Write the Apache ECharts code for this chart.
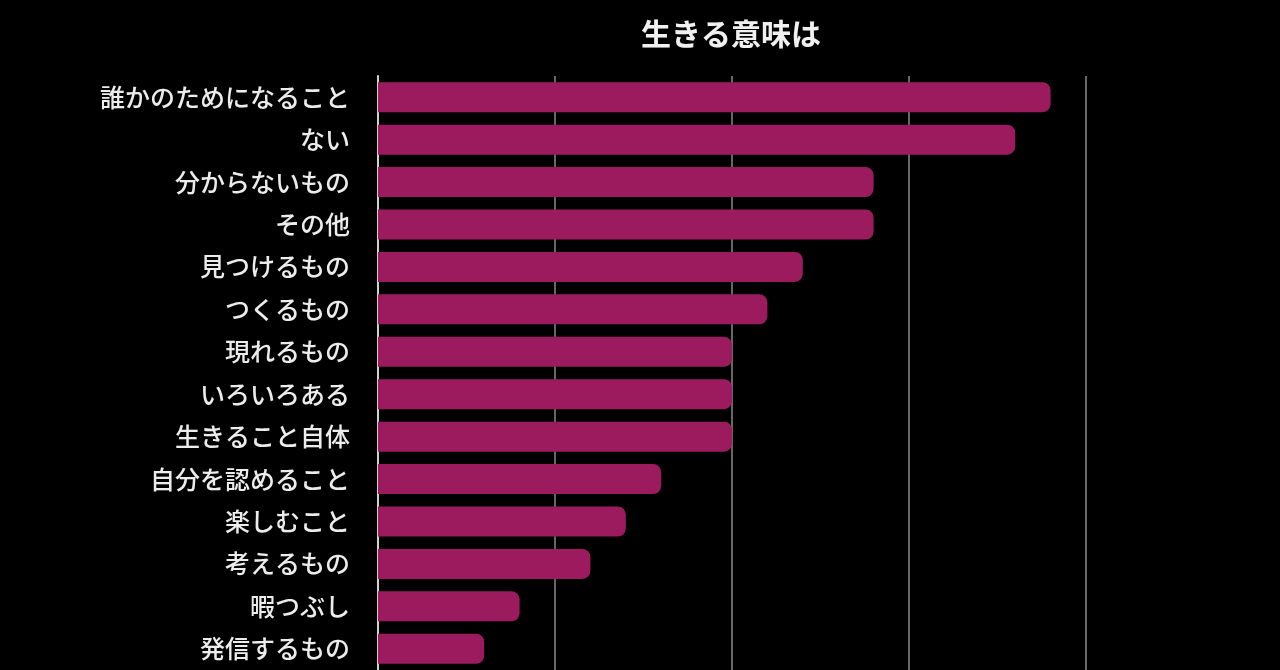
<!DOCTYPE html>
<html>
<head>
<meta charset="utf-8">
<script src="https://cdn.jsdelivr.net/npm/echarts@6/dist/echarts.min.js"></script>
<style>
html,body{margin:0;padding:0;background:#000;}
#chart{width:1280px;height:670px;}
</style>
</head>
<body>
<div id="chart"></div>
<script>
const titleText = "生きる意味は";
const categories = ["誰かのためになること","ない","分からないもの","その他","見つけるもの","つくるもの","現れるもの","いろいろある","生きること自体","自分を認めること","楽しむこと","考えるもの","暇つぶし","発信するもの"];
const values = [19, 18, 14, 14, 12, 11, 10, 10, 10, 8, 7, 6, 4, 3];
const xTicks = [0, 5, 10, 15, 20];

const chart = echarts.init(document.getElementById('chart'));
chart.setOption({
  backgroundColor: '#000',
  animation: false,
  title: {
    text: titleText,
    left: 726, top: 14, textAlign: 'center',
    textStyle: {color: '#f0f0f0', fontSize: 30, fontWeight: 'bold', fontFamily: '"Noto Sans CJK JP", sans-serif'}
  },
  grid: {left: 378, right: 194, top: 76, bottom: 0, containLabel: false},
  xAxis: {
    type: 'value', min: xTicks[0], max: xTicks[xTicks.length-1], interval: 5,
    axisLabel: {show: false}, axisLine: {show: false}, axisTick: {show: false},
    splitLine: {show: true, lineStyle: {color: '#8a8a8a', width: 1.5}}
  },
  yAxis: {
    type: 'category', data: categories, inverse: true,
    axisLine: {show: true, lineStyle: {color: '#d0d0d0', width: 2}},
    axisTick: {show: false},
    axisLabel: {color: '#ececec', fontSize: 25, margin: 28, fontWeight: 500, fontFamily: '"Noto Sans CJK JP", sans-serif'}
  },
  series: [{
    type: 'bar', data: values, barWidth: 30,
    itemStyle: {color: '#9c1b5f', borderRadius: [0, 8, 8, 0]}
  }]
});
</script>
</body>
</html>
